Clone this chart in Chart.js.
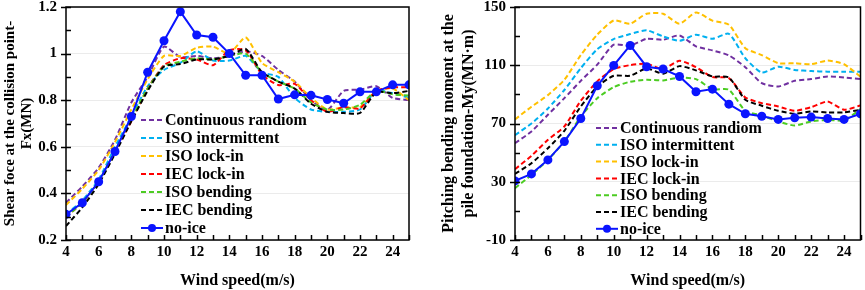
<!DOCTYPE html>
<html>
<head>
<meta charset="utf-8">
<script src="https://cdn.jsdelivr.net/npm/chart.js@4/dist/chart.umd.min.js"></script>
<style>
  html, body { margin: 0; padding: 0; background: #fff; }
  #wrap { position: relative; width: 865px; height: 290px; }
  .box { position: absolute; top: 0; height: 290px; }
</style>
</head>
<body>
<div id="wrap">
  <div class="box" style="left:0;width:430px"><canvas id="fx"></canvas></div>
  <div class="box" style="left:430px;width:435px"><canvas id="my"></canvas></div>
</div>
<script>
const windSpeed = [4,5,6,7,8,9,10,11,12,13,14,15,16,17,18,19,20,21,22,23,24,25];
const seriesNames = ['Continuous randiom','ISO intermittent','ISO lock-in','IEC lock-in','ISO bending','IEC bending','no-ice'];
const seriesColors = ['#7030a0','#00b0f0','#ffc000','#ff0000','#4ccc22','#000000','#0a14ff'];

// shear force at the collision point (MN)
const fxContinuous = [0.36,0.43,0.51,0.63,0.79,0.90,1.03,0.985,0.99,0.98,0.99,1.01,0.99,0.93,0.88,0.80,0.758,0.84,0.845,0.86,0.81,0.80];
const fxIsoInter   = [0.31,0.37,0.46,0.60,0.73,0.86,0.93,0.96,1.01,0.97,0.97,0.99,0.92,0.90,0.81,0.76,0.75,0.75,0.76,0.84,0.83,0.81];
const fxIsoLock    = [0.35,0.42,0.50,0.62,0.76,0.89,0.99,0.99,1.025,1.03,1.0,1.07,0.96,0.92,0.88,0.81,0.76,0.77,0.77,0.84,0.85,0.80];
const fxIecLock    = [0.30,0.36,0.45,0.58,0.71,0.85,0.95,0.98,0.975,0.95,1.015,1.015,0.91,0.865,0.87,0.80,0.75,0.77,0.765,0.84,0.855,0.855];
const fxIsoBend    = [0.30,0.36,0.45,0.58,0.72,0.85,0.945,0.965,0.98,0.975,0.99,1.0,0.92,0.88,0.85,0.79,0.76,0.76,0.78,0.84,0.825,0.82];
const fxIecBend    = [0.26,0.34,0.44,0.57,0.71,0.84,0.945,0.955,0.975,0.975,0.99,1.02,0.92,0.88,0.85,0.785,0.75,0.745,0.745,0.835,0.83,0.84];
const fxNoIce      = [0.31,0.36,0.45,0.58,0.73,0.92,1.055,1.18,1.08,1.07,1.0,0.907,0.907,0.805,0.823,0.821,0.803,0.787,0.836,0.836,0.866,0.866];

// pitching bending moment at the pile foundation (MN.m)
const myContinuous = [56.5,64.5,76,87.4,99.3,110.4,124.1,123.4,128.2,127.5,130.5,123,120.2,116.8,108.7,97.7,95.4,99.3,100.5,102.3,101.6,100.5];
const myIsoInter   = [62,70,80.3,93,108,121,128,131.4,134,129.8,126.8,131,128.2,131.6,114.8,105,109,106.8,106,105.6,105.6,105.6];
const myIsoLock    = [72.8,81.5,89.5,100,117,131,140.8,138.5,145.4,145.4,138.5,146.3,140.6,137.8,121.7,117,111.4,111.4,110.7,113.2,110.7,102.2];
const myIecLock    = [38.6,47.8,58.8,68,85.6,98.9,107.4,110.1,111,107.4,113.1,108.7,101.9,101.2,87.9,84,81.7,78.7,81.2,85.1,79.4,82.4];
const myIsoBend    = [25.6,34.7,45,57.6,74.8,87.4,95,98.7,100,99.6,101.6,100.5,93.6,93.2,78.7,75.5,71.4,68.6,71.4,72.5,72.1,79.9];
const myIecBend    = [35.4,42.7,53,65,81.7,95.4,102.8,102.8,107.8,104.2,109.4,106.5,102.3,101.6,86.3,82.2,78.7,76.7,78.3,77.6,77.6,79.4];
const myNoIce      = [30.6,35.4,45,57.6,73.4,95.9,109.9,123.6,109,107.4,102.3,91.8,93.6,83.3,76.7,75,72.8,73.9,74.4,73.4,72.8,76.7];

const FONT = '"Liberation Serif", "Times New Roman", serif';

function makeDatasets(lists) {
  return lists.map((vals, i) => {
    const noIce = i === lists.length - 1;
    return {
      label: seriesNames[i],
      data: vals.map((v, k) => ({ x: windSpeed[k], y: v })),
      borderColor: seriesColors[i],
      backgroundColor: seriesColors[i],
      borderWidth: 2,
      borderDash: noIce ? [] : [5, 3],
      pointRadius: noIce ? 4.5 : 0,
      pointBorderWidth: 0,
      tension: noIce ? 0 : 0.2,
      order: noIce ? 0 : lists.length - i
    };
  });
}

// box frame + tick marks drawn by hand
const frame = {
  id: 'frame',
  afterDatasetsDraw(chart, args, o) {
    const { ctx, chartArea: a, scales } = chart;
    ctx.save();
    ctx.strokeStyle = '#000';
    ctx.setLineDash([]);
    ctx.lineWidth = 1.5;
    ctx.strokeRect(a.left, a.top, a.right - a.left, a.bottom - a.top);
    ctx.beginPath();
    for (let v = o.ymin; v <= o.ymax + 1e-9; v += o.minor) {
      const y = Math.round(scales.y.getPixelForValue(v)) + 0.5;
      const major = Math.abs(Math.round((v - o.ymin) / o.major) * o.major - (v - o.ymin)) < 1e-6;
      ctx.moveTo(a.left - (major ? 5 : 0), y);
      ctx.lineTo(a.left + 5, y);
    }
    for (let x = 4; x <= 25; x++) {
      const px = Math.round(scales.x.getPixelForValue(x)) + 0.5;
      ctx.moveTo(px, a.bottom);
      ctx.lineTo(px, a.bottom - 5);
    }
    ctx.stroke();
    ctx.restore();
  }
};

const insideLegend = {
  id: 'insideLegend',
  afterDatasetsDraw(chart, args, o) {
    const ctx = chart.ctx;
    ctx.save();
    ctx.font = 'bold 16px ' + FONT;
    ctx.textBaseline = 'middle';
    chart.data.datasets.forEach((ds, i) => {
      const y = o.top + i * o.gap;
      ctx.strokeStyle = ds.borderColor;
      ctx.lineWidth = 2;
      ctx.setLineDash(ds.borderDash);
      ctx.beginPath();
      ctx.moveTo(o.left, y);
      ctx.lineTo(o.left + 22, y);
      ctx.stroke();
      if (ds.pointRadius) {
        ctx.fillStyle = ds.borderColor;
        ctx.beginPath();
        ctx.arc(o.left + 11, y, 4, 0, Math.PI * 2);
        ctx.fill();
      }
      ctx.setLineDash([]);
      ctx.fillStyle = '#000';
      ctx.fillText(ds.label, o.left + 24, y + 1);
    });
    ctx.restore();
  }
};

function build(id, lists, cfg) {
  return new Chart(document.getElementById(id), {
    type: 'line',
    data: { datasets: makeDatasets(lists) },
    plugins: [frame, insideLegend],
    options: {
      responsive: true,
      maintainAspectRatio: false,
      animation: false,
      layout: { padding: { top: 7, right: cfg.padRight, left: 0, bottom: 0 } },
      plugins: {
        legend: { display: false },
        tooltip: { enabled: false },
        frame: { ymin: cfg.ymin, ymax: cfg.ymax, major: cfg.step, minor: cfg.step / 2 },
        insideLegend: cfg.legend
      },
      scales: {
        x: {
          type: 'linear', min: 4, max: 25,
          afterFit: s => { s.height = 50; s.paddingLeft = 0; s.paddingRight = 0; },
          grid: { display: false, drawTicks: false },
          border: { display: false },
          ticks: {
            stepSize: 1, padding: 3, color: '#000', autoSkip: false,
            minRotation: 0, maxRotation: 0,
            font: { family: FONT, size: 15, weight: 'bold' },
            callback: v => (v % 2 === 0 && v < 25) ? v : ''
          },
          title: {
            display: true, text: 'Wind speed(m/s)', color: '#000',
            font: { family: FONT, size: 16, weight: 'bold' }, padding: { top: 0, bottom: 0 }
          }
        },
        y: {
          min: cfg.ymin, max: cfg.ymax,
          afterFit: s => { s.width = cfg.yWidth; s.paddingTop = 0; s.paddingBottom = 0; },
          grid: { color: '#ebebeb', drawTicks: false, lineWidth: 1 },
          border: { display: false },
          ticks: {
            stepSize: cfg.step, padding: 9, color: '#000',
            font: { family: FONT, size: 15, weight: 'bold' },
            callback: v => +v.toFixed(1)
          },
          title: {
            display: true, text: cfg.ytitle, color: '#000',
            font: { family: FONT, size: cfg.titleSize, weight: 'bold', lineHeight: cfg.titleLH },
            padding: { top: cfg.titlePad, bottom: 0 }
          }
        }
      }
    }
  });
}

build('fx', [fxContinuous, fxIsoInter, fxIsoLock, fxIecLock, fxIsoBend, fxIecBend, fxNoIce], {
  ymin: 0.2, ymax: 1.2, step: 0.2, yWidth: 66, padRight: 21,
  titleSize: 15, titleLH: 1.13, titlePad: 2,
  ytitle: ['Shear foce at the collision point-', 'Fx(MN)'],
  legend: { left: 141, top: 120, gap: 18 }
});

build('my', [myContinuous, myIsoInter, myIsoLock, myIecLock, myIsoBend, myIecBend, myNoIce], {
  ymin: -10, ymax: 150, step: 40, yWidth: 85, padRight: 3,
  titleSize: 16, titleLH: 1.25, titlePad: 9,
  ytitle: ['Pitching bending moment at the', 'pile foundation-My(MN\u00b7m)'],
  legend: { left: 166, top: 128, gap: 16.8 }
});
</script>
</body>
</html>
